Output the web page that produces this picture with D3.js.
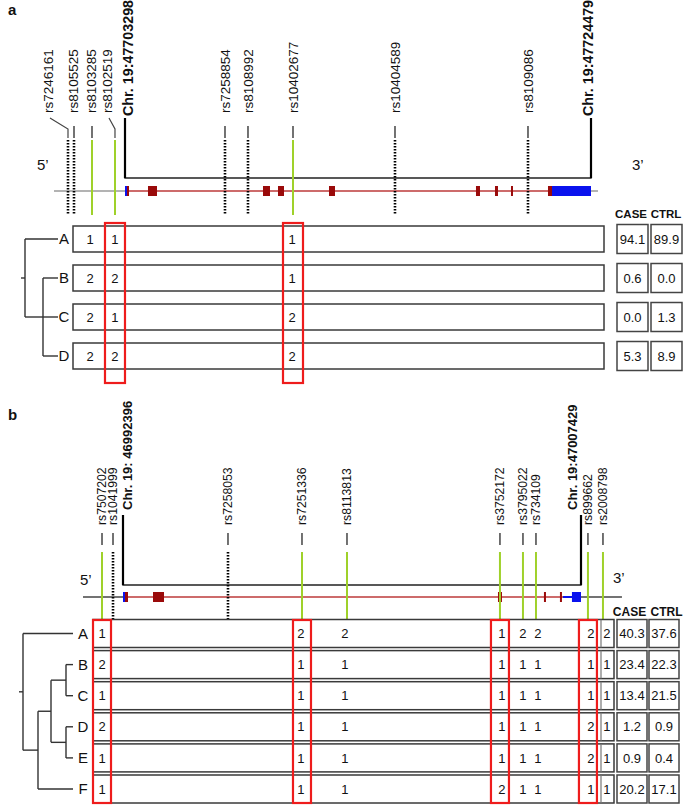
<!DOCTYPE html>
<html><head><meta charset="utf-8">
<script src="https://cdn.jsdelivr.net/npm/d3@7"></script>
<style>
body{margin:0;background:#fff}
svg{display:block}
text{font-family:"Liberation Sans",Arial,Helvetica,sans-serif;fill:#111}
</style>
</head><body>
<svg id="c" width="685" height="805"></svg>
<script>
// ---------------- Panel a data ----------------
const snpNamesA = ["rs7246161","rs8105525","rs8103285","rs8102519","rs7258854","rs8108992","rs10402677","rs10404589","rs8109086"];
const snpPosA   = [47700707,47700980,47701798,47702843,47707843,47708888,47710934,47715570,47721615];
const snpTypeA  = ["dot","dot","tag","tag","dot","dot","tag","dot","dot"];
const chrA = [47703298, 47724479];
const chrLabelsA = ["Chr. 19:47703298","Chr. 19:47724479"];
const backboneA = [47700071, 47724796];
const intronA = [47703298, 47722524];
const exonStartA = [47703298,47703389,47704343,47709570,47710252,47712570,47719251,47720115,47720842,47722524,47722706];
const exonEndA   = [47703389,47703480,47704752,47709888,47710525,47712843,47719433,47720251,47720933,47722706,47724479];
const exonKindA  = ["utr","cds","cds","cds","cds","cds","cds","cds","cds","cds","utr"];
const hapsA = ["A","B","C","D"];
const allelesA = [[1,1,1],[2,2,1],[2,1,2],[2,2,2]]; // rs8103285, rs8102519, rs10402677
const caseA = [94.1, 0.6, 0.0, 5.3];
const ctrlA = [89.9, 0.0, 1.3, 8.9];
const highlightA = ["rs8102519","rs10402677"];
const treeA = {children:[{name:"A"},{children:[{name:"B"},{name:"C"},{name:"D"}]}]};

// ---------------- Panel b data ----------------
const snpNamesB = ["rs7507202","rs1041999","rs7258053","rs7251336","rs8113813","rs3752172","rs3795022","rs734109","rs899662","rs2008798"];
const snpPosB   = [46991707,46992068,46995842,46998271,46999748,47004769,47005524,47005951,47007657,47008150];
const snpTypeB  = ["tag","dot","dot","tag","tag","tag","tag","tag","tag","tag"];
const chrB = [46992396, 47007429];
const chrLabelsB = ["Chr. 19: 46992396","Chr. 19:47007429"];
const backboneB = [46991083, 47008773];
const intronB = [46992396, 47006837];
const utrIntronB = [47006837, 47007132];
const exonStartB = [46992396,46992462,46993381,47004704,47006213,47006738,47007132];
const exonEndB   = [46992462,46992560,46993742,47004835,47006279,47006804,47007429];
const exonKindB  = ["utr","cds","cds","cds","cds","cds","utr"];
const hapsB = ["A","B","C","D","E","F"];
const allelesB = [
  [1,2,2,1,2,2,2,2],
  [2,1,1,1,1,1,1,1],
  [1,1,1,1,1,1,1,1],
  [2,1,1,1,1,1,2,1],
  [1,1,1,1,1,1,2,1],
  [1,1,1,2,1,1,1,1]
];
const caseB = [40.3, 23.4, 13.4, 1.2, 0.9, 20.2];
const ctrlB = [37.6, 22.3, 21.5, 0.9, 0.4, 17.1];
const highlightB = ["rs7507202","rs7251336","rs3752172","rs899662"];
const treeB = {children:[{name:"A"},{children:[{children:[{children:[{name:"B"},{name:"C"}]},{children:[{name:"D"},{name:"E"}]}]},{name:"F"}]}]};

// ---------------- drawing ----------------
const svg = d3.select("#c");
const GREEN = "#9fd12a", RED = "#ee1c1c", EXON = "#9a0a0a", INTRON = "#cd6b6b", BLUE = "#0a12ee";

function fmt(v){ return v.toFixed(1); }

function panel(c) {
  const g = svg.append("g");
  const x = d3.scaleLinear().domain(c.chr).range(c.xRange);
  const y = d3.scalePoint().domain(c.haps).range(c.yRange);

  g.append("text").attr("x", 8).attr("y", c.letterY).attr("font-size", 15).attr("font-weight", "bold").text(c.letter);

  // gene backbone
  g.append("line").attr("x1", x(c.backbone[0])).attr("x2", x(c.backbone[1]))
    .attr("y1", c.geneY).attr("y2", c.geneY).attr("stroke", c.backboneColor).attr("stroke-width", 1.5);
  g.append("line").attr("x1", x(c.intron[0])).attr("x2", x(c.intron[1]))
    .attr("y1", c.geneY).attr("y2", c.geneY).attr("stroke", INTRON).attr("stroke-width", 2);
  if (c.utrIntron) g.append("line").attr("x1", x(c.utrIntron[0])).attr("x2", x(c.utrIntron[1]))
    .attr("y1", c.geneY).attr("y2", c.geneY).attr("stroke", BLUE).attr("stroke-width", 2);
  g.selectAll(null).data(c.exonStart).join("rect")
    .attr("x", d => x(d))
    .attr("width", (d,i) => Math.max(2, x(c.exonEnd[i]) - x(d)))
    .attr("y", c.geneY - 5).attr("height", 10)
    .attr("fill", (d,i) => c.exonKind[i] === "utr" ? BLUE : EXON);

  // chromosome bracket
  g.append("path")
    .attr("d", `M${x(c.chr[0])},${c.chrTop}V${c.bracketY}H${x(c.chr[1])}V${c.chrTop}`)
    .attr("fill", "none").attr("stroke", "#222").attr("stroke-width", 1.4);
  g.selectAll(null).data(c.chr).join("line")
    .attr("x1", d => x(d)).attr("x2", d => x(d))
    .attr("y1", c.chrTop).attr("y2", c.bracketY).attr("stroke", "#000").attr("stroke-width", 2.2);
  g.selectAll(null).data(c.chr).join("text")
    .attr("transform", (d,i) => `translate(${x(d) + c.chrLabelDx[i]},${c.chrLabelY}) rotate(-90)`)
    .attr("dy", "0.35em").attr("font-size", c.chrFont).attr("font-weight", "bold")
    .text((d,i) => c.chrLabels[i]);

  // SNPs
  c.snpNames.forEach((name, i) => {
    const sx = x(c.snpPos[i]);
    const dx = c.labelDx[name] || 0;
    const lx = sx + dx;
    g.append("text")
      .attr("transform", `translate(${lx},${c.labelY}) rotate(-90)`)
      .attr("dy", "0.35em").attr("font-size", c.labelFont).attr("fill", "#222").text(name);
    if (Math.abs(dx) > 3) {
      g.append("path").attr("d", `M${lx + 2},${c.labelY + 5}L${sx},${c.tickTop + 3}V${c.tickBottom}`)
        .attr("fill", "none").attr("stroke", "#444").attr("stroke-width", 1.2);
    } else {
      g.append("line").attr("x1", sx).attr("x2", sx).attr("y1", c.tickTop).attr("y2", c.tickBottom)
        .attr("stroke", "#444").attr("stroke-width", 1.5);
    }
    const isTag = c.snpType[i] === "tag";
    g.append("line").attr("x1", sx).attr("x2", sx).attr("y1", c.lineTop).attr("y2", c.lineBottom)
      .attr("stroke", isTag ? GREEN : "#000")
      .attr("stroke-width", isTag ? 2 : 2.6)
      .attr("stroke-dasharray", isTag ? null : "1.6,1.4");
  });

  // 5' / 3'
  g.append("text").attr("x", c.p5[0]).attr("y", c.p5[1]).attr("font-size", 15).text("5\u2019");
  g.append("text").attr("x", c.p3[0]).attr("y", c.p3[1]).attr("font-size", 15).text("3\u2019");

  // haplotype rows
  g.selectAll(null).data(c.haps).join("rect")
    .attr("x", c.rowX[0]).attr("width", c.rowX[1] - c.rowX[0])
    .attr("y", d => y(d) - c.rowH / 2).attr("height", c.rowH)
    .attr("fill", "#fff").attr("stroke", "#3a3a3a").attr("stroke-width", 1.5);
  if (c.rowDivider) g.selectAll(null).data(c.haps).join("line")
    .attr("x1", c.rowDivider).attr("x2", c.rowDivider)
    .attr("y1", d => y(d) - c.rowH / 2).attr("y2", d => y(d) + c.rowH / 2)
    .attr("stroke", "#777").attr("stroke-width", 1.2);

  // alleles at tagged SNPs
  const tagPos = c.snpPos.filter((d,i) => c.snpType[i] === "tag");
  c.haps.forEach((h, r) => {
    g.selectAll(null).data(c.alleles[r]).join("text")
      .attr("x", (d,j) => x(tagPos[j]) + (c.numDx[j] || 0))
      .attr("y", y(h)).attr("dy", "0.36em").attr("text-anchor", "middle")
      .attr("font-size", 13).text(d => d);
  });

  // highlighted columns
  g.selectAll(null).data(c.highlight).join("rect")
    .attr("x", d => x(c.snpPos[c.snpNames.indexOf(d)]) - c.hlW / 2)
    .attr("width", c.hlW)
    .attr("y", c.hlY[0]).attr("height", c.hlY[1] - c.hlY[0])
    .attr("fill", "none").attr("stroke", RED).attr("stroke-width", 2.2);

  // CASE / CTRL
  const cols = [{k:"CASE", v:c.caseV, x:c.caseX, hx:c.headerX[0]}, {k:"CTRL", v:c.ctrlV, x:c.ctrlX, hx:c.headerX[1]}];
  cols.forEach(col => {
    g.append("text").attr("x", col.hx).attr("y", c.headerY).attr("text-anchor", "middle")
      .attr("font-size", c.headerFont).attr("font-weight", "bold").text(col.k);
    g.selectAll(null).data(c.haps).join("rect")
      .attr("x", col.x).attr("width", c.boxW)
      .attr("y", d => y(d) - c.boxH / 2).attr("height", c.boxH)
      .attr("fill", "#fff").attr("stroke", "#444").attr("stroke-width", 1.5);
    g.selectAll(null).data(c.haps).join("text")
      .attr("x", col.x + c.boxW / 2).attr("y", d => y(d)).attr("dy", "0.36em")
      .attr("text-anchor", "middle").attr("font-size", 13).text((d,i) => fmt(col.v[i]));
  });

  // dendrogram
  const root = d3.hierarchy(c.tree);
  const hx = d3.scaleLinear().domain(c.treeX.map((d,i) => i)).range(c.treeX);
  root.eachAfter(n => {
    n.py = n.children ? d3.mean(n.children, k => k.py) : y(n.data.name);
  });
  const tg = g.append("g").attr("stroke", "#333").attr("stroke-width", 1.4).attr("fill", "none");
  root.each(n => {
    if (n.children) {
      const ys = n.children.map(k => k.py);
      tg.append("line").attr("x1", hx(n.height)).attr("x2", hx(n.height))
        .attr("y1", d3.min(ys)).attr("y2", d3.max(ys));
      n.children.forEach(k => {
        tg.append("line").attr("x1", hx(n.height)).attr("x2", hx(k.height))
          .attr("y1", k.py).attr("y2", k.py);
      });
    }
  });
  tg.append("line").attr("x1", hx(root.height) - 4).attr("x2", hx(root.height))
    .attr("y1", root.py).attr("y2", root.py);
  g.selectAll(null).data(c.haps).join("text")
    .attr("x", c.hapLabelX).attr("y", d => y(d)).attr("dy", "0.36em").attr("text-anchor", "middle")
    .attr("font-size", 15).text(d => d);
}

panel({
  letter: "a", letterY: 15,
  chr: chrA, chrLabels: chrLabelsA, xRange: [125, 591],
  backbone: backboneA, backboneColor: "#9a9a9a", intron: intronA,
  exonStart: exonStartA, exonEnd: exonEndA, exonKind: exonKindA,
  geneY: 191, chrTop: 118, bracketY: 178, chrLabelY: 116, chrLabelDx: [3, -3], chrFont: 14.3,
  snpNames: snpNamesA, snpPos: snpPosA, snpType: snpTypeA,
  labelDx: {rs7246161: -20, rs8105525: -1, rs8103285: -1, rs8102519: -8},
  labelY: 113, labelFont: 13.5, tickTop: 126, tickBottom: 138, lineTop: 140, lineBottom: 215,
  p5: [37, 170], p3: [632, 170],
  haps: hapsA, yRange: [239, 356], rowX: [73, 604], rowH: 26,
  alleles: allelesA, numDx: [-2, 0, -1],
  highlight: highlightA, hlW: 20, hlY: [223, 383],
  caseV: caseA, ctrlV: ctrlA, caseX: 617, ctrlX: 651, boxW: 31, boxH: 29,
  headerY: 218, headerFont: 11.5, headerX: [631, 666],
  tree: treeA, treeX: [58, 43, 25], hapLabelX: 64
});

panel({
  letter: "b", letterY: 420,
  chr: chrB, chrLabels: chrLabelsB, xRange: [123, 581],
  backbone: backboneB, backboneColor: "#444", intron: intronB, utrIntron: utrIntronB,
  exonStart: exonStartB, exonEnd: exonEndB, exonKind: exonKindB,
  geneY: 597, chrTop: 515, bracketY: 585, chrLabelY: 510, chrLabelDx: [4, -9], chrFont: 13,
  snpNames: snpNamesB, snpPos: snpPosB, snpType: snpTypeB,
  labelDx: {},
  labelY: 525, labelFont: 12.2, tickTop: 533, tickBottom: 545, lineTop: 552, lineBottom: 619,
  p5: [80, 585], p3: [613, 583],
  haps: hapsB, yRange: [633.5, 789], rowX: [93, 614], rowH: 28, rowDivider: 601,
  alleles: allelesB, numDx: [0, -1, -2, 2, 0, 2, 3, 4],
  highlight: highlightB, hlW: 18, hlY: [620, 803],
  caseV: caseB, ctrlV: ctrlB, caseX: 617, ctrlX: 649, boxW: 30, boxH: 28,
  headerY: 616, headerFont: 12, headerX: [629.5, 666.5],
  tree: treeB, treeX: [73, 66, 51, 38, 23], hapLabelX: 83
});
</script>
</body></html>
